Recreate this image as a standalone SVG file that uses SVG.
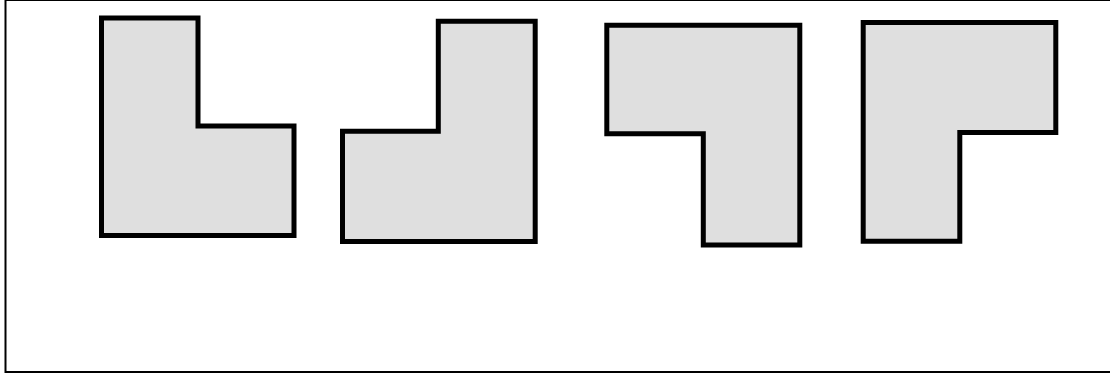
<svg xmlns="http://www.w3.org/2000/svg" width="1110" height="374" viewBox="0 0 1110 374">
<style>
.shape{fill:#dfdfdf;stroke:#000;stroke-width:5;stroke-linejoin:miter}
.frame{fill:none;stroke:#000;stroke-width:2}
</style>
<rect x="0" y="0" width="1110" height="374" fill="#fff"/>
<rect class="frame" x="5.5" y="0" width="1110" height="372"/>
<g id="shape1"><path class="shape" d="M101.5,18 L198,18 L198,126 L294,126 L294,235.5 L101.5,235.5 Z"/></g>
<g id="shape2"><path class="shape" d="M342.5,131.2 L438.3,131.2 L438.3,21.3 L535.2,21.3 L535.2,241.5 L342.5,241.5 Z"/></g>
<g id="shape3"><path class="shape" d="M606.8,25.2 L799.8,25.2 L799.8,245 L703.3,245 L703.3,133.8 L606.8,133.8 Z"/></g>
<g id="shape4"><path class="shape" d="M863.2,22.5 L1055.8,22.5 L1055.8,132.5 L959.8,132.5 L959.8,241.2 L863.2,241.2 Z"/></g>
<g id="connectors"></g>
</svg>
